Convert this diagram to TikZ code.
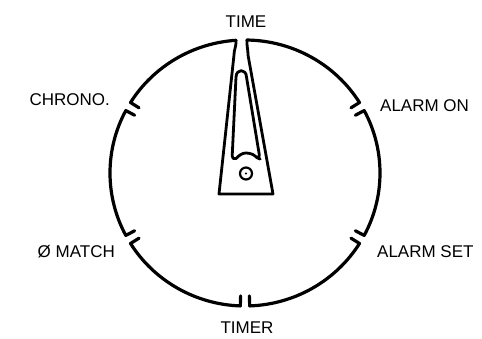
\documentclass[tikz,border=0pt]{standalone}
\usepackage{fontspec}
\setmainfont{Liberation Sans}
\usetikzlibrary{calc}
\begin{document}
\begin{tikzpicture}[x=1pt,y=1pt,
  dial/.style={line width=3.2pt,line cap=round,line join=round},
  handline/.style={line width=2.8pt,line cap=round,line join=round},
  lbl/.style={inner sep=0pt,font=\fontsize{17}{17}\selectfont}]
\useasboundingbox (0,0) rectangle (482,338);
\coordinate (C) at (245,165);
% arc end points and ticks
\foreach \a/\b/\n in {32/89.2/A,93.8/148/B,152/208/Cc,212/268/D,272/328/E,332/388/F}{
  \coordinate (\n-s) at ($(C)+(\a:135 and 133)$);
  \coordinate (\n-e) at ($(C)+(\b:135 and 133)$);
  \coordinate (\n-si) at ($(C)+(\a:125 and 123)$);
  \coordinate (\n-ei) at ($(C)+(\b:125 and 123)$);
}
\draw[dial] (A-si) -- (A-s) arc[start angle=32,end angle=89.2,x radius=135,y radius=133];
\draw[dial] (B-s) arc[start angle=93.8,end angle=148,x radius=135,y radius=133] -- (B-ei);
\draw[dial] (Cc-si) -- (Cc-s) arc[start angle=152,end angle=208,x radius=135,y radius=133] -- (Cc-ei);
\draw[dial] (D-si) -- (D-s) arc[start angle=212,end angle=268,x radius=135,y radius=133] -- (D-ei);
\draw[dial] (E-si) -- (E-s) arc[start angle=272,end angle=328,x radius=135,y radius=133] -- (E-ei);
\draw[dial] (F-si) -- (F-s) arc[start angle=332,end angle=388,x radius=135,y radius=133] -- (F-ei);
% hand outline
\coordinate (nr) at (248,283);
\coordinate (nl) at (234,283);
\coordinate (br) at (273,144);
\coordinate (bl) at (219,144);
\draw[handline] (A-e) .. controls +(0,-8) and +(0,6) .. (nr) -- (br) -- (bl) -- (nl) .. controls +(0,6) and +(0,-8) .. (B-s);
% inner slot
\coordinate (tl) at (236,261);
\coordinate (tr) at (246.5,261);
\coordinate (sl) at (232,178);
\coordinate (sr) at (260,179);
\draw[handline] (tl) .. controls (236.3,269.5) and (246.2,269.5) .. (tr)
  [rounded corners=4] -- (sr) -- (256.5,180.5) [sharp corners]
  .. controls (253,183.5) and (249.5,185) .. (246,185)
  .. controls (242,185) and (239,182.5) .. (236,179.5)
  [rounded corners=4] -- (sl) [sharp corners] -- cycle;
% pivot
\node[draw,circle,line width=2.2pt,minimum size=12pt,inner sep=0pt] (pv) at (246,164.5) {};
\fill (pv.center) circle (1.1pt);
% labels
\node[lbl,anchor=base] (time) at (246,310) {TIME};
\node[lbl,anchor=base] (timer) at (247,4.5) {TIMER};
\node[lbl,anchor=base east] (chrono) at (110,233) {CHRONO.};
\node[lbl,anchor=base west] (alon) at (380,226) {ALARM ON};
\node[lbl,anchor=base east] (match) at (115,81) {Ø MATCH};
\node[lbl,anchor=base west] (alset) at (377,81) {ALARM SET};
\end{tikzpicture}
\end{document}
